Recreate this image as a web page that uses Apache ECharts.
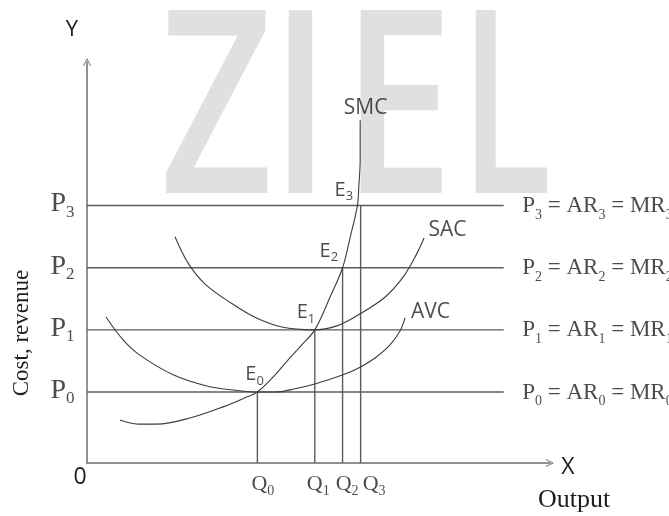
<!DOCTYPE html>
<html><head><meta charset="utf-8">
<script src="https://cdn.jsdelivr.net/npm/echarts@6/dist/echarts.min.js"></script>
<style>html,body{margin:0;padding:0;background:#fff}#c{width:669px;height:516px}</style>
</head><body><div id="c"></div>
<script>
// ---- data (chart units: x = output, y = cost/revenue) ----
const subscripts = ['0', '1', '2', '3'];
const priceLevels = [17.7, 33.2, 48.7, 64.2];      // P0..P3
const quantities = [36.8, 49.2, 55.2, 59.1];       // Q0..Q3
const priceLineEnd = 90;
const smcPoints = [[7.1,10.7],[11.0,9.7],[15.1,9.7],[22.2,11.2],[29.4,14.0],[34.6,16.5],[36.8,17.7],[40.0,21.2],[43.2,25.4],[46.2,29.2],[49.2,33.2],[52.5,41.4],[55.2,48.7],[56.8,56.1],[58.4,64.2],[58.7,68.8],[59.0,75.6],[59.0,85.5]];
const sacPoints = [[19.0,56.4],[21.8,49.9],[25.5,44.6],[31.1,39.9],[36.5,36.2],[42.1,33.9],[48.8,33.2],[54.0,34.2],[59.0,37.2],[64.4,41.4],[68.3,46.4],[71.1,51.9],[72.8,56.1]];
const avcPoints = [[4.1,36.4],[7.8,30.7],[11.4,26.9],[18.6,22.0],[25.9,19.2],[31.5,18.2],[36.8,17.7],[40.6,17.7],[44.9,18.5],[49.2,19.7],[55.3,22.0],[59.0,23.9],[62.2,26.2],[65.4,29.4],[67.6,32.9],[68.7,36.2]];
const curveNames = ['SMC', 'SAC', 'AVC'];

// ---- styles / label placement ----
const TXT = '#1e1e1e';
const SERIF = '"Liberation Serif", "Times New Roman", serif';
const SANS = '"Open Sans", sans-serif';
const eLabelShift = [[7,-17],[1,-17],[-4,-16],[-7,-15]];
const qLabelShift = [[6,22],[4,22],[5,22],[14,22]];
const curveLabelShift = [[6,-12],[24,-8],[26,-5]];
const arrowPath = 'path://M0,12 L6,0 L12,12 L10.6,12 L6,2.8 L1.4,12 Z';

const chart = echarts.init(document.getElementById('c'), null, {renderer: 'canvas'});

const curveSeries = [smcPoints, sacPoints, avcPoints].map((pts, i) => ({
  type: 'line', name: curveNames[i], data: pts, smooth: 0.35, symbol: 'none',
  lineStyle: {color: '#3c3c3c', width: 1.1}, silent: true, z: 3
}));

const priceLineSeries = priceLevels.map(p => ({
  type: 'line', data: [[0, p], [priceLineEnd, p]], symbol: 'none',
  lineStyle: {color: '#5c5c5c', width: 1.4}, silent: true, z: 2
}));

const qLineSeries = quantities.map((q, i) => ({
  type: 'line', data: [[q, 0], [q, priceLevels[i]]], symbol: 'none',
  lineStyle: {color: '#5c5c5c', width: 1.4}, silent: true, z: 2
}));

function labelSeries(data) {
  return {type: 'scatter', symbolSize: 1, itemStyle: {color: 'rgba(0,0,0,0)'},
          silent: true, z: 5, data: data};
}

const serifRich = (main, sub, mainLH, subLH) => ({
  m: {fontFamily: SERIF, fontSize: main, color: TXT, lineHeight: mainLH},
  s: {fontFamily: SERIF, fontSize: sub, color: TXT, lineHeight: subLH, verticalAlign: 'bottom'}
});

const leftPLabels = labelSeries(priceLevels.map((p, i) => ({
  value: [0, p],
  label: {show: true, position: [-12, -1], align: 'right', verticalAlign: 'middle',
          formatter: `{m|P}{s|${subscripts[i]}}`, rich: serifRich(28, 17, 34, 12)}
})));

const rightPLabels = labelSeries(priceLevels.map((p, i) => ({
  value: [priceLineEnd, p],
  label: {show: true, position: [19, 1], align: 'left', verticalAlign: 'middle',
          formatter: `{m|P}{s|${subscripts[i]}}{m| = AR}{s|${subscripts[i]}}{m| = MR}{s|${subscripts[i]}}`,
          rich: serifRich(23, 14, 32, 12)}
})));

const qLabels = labelSeries(quantities.map((q, i) => ({
  value: [q, 0],
  label: {show: true, position: qLabelShift[i], align: 'center', verticalAlign: 'middle',
          formatter: `{m|Q}{s|${subscripts[i]}}`, rich: serifRich(22, 14, 28, 11)}
})));

const eLabels = labelSeries(quantities.map((q, i) => ({
  value: [q, priceLevels[i]],
  label: {show: true, position: eLabelShift[i], align: 'right', verticalAlign: 'middle',
          formatter: `{m|E}{s|${subscripts[i]}}`,
          rich: {m: {fontFamily: SANS, fontSize: 20, color: TXT, lineHeight: 26},
                 s: {fontFamily: SANS, fontSize: 13, color: TXT, lineHeight: 12, verticalAlign: 'bottom'}}}
})));

const curveLabels = labelSeries([smcPoints, sacPoints, avcPoints].map((pts, i) => ({
  value: pts[pts.length - 1],
  label: {show: true, position: curveLabelShift[i], align: 'center', verticalAlign: 'middle',
          formatter: curveNames[i], fontFamily: SANS, fontSize: 21, color: TXT}
})));

const axisCommon = {
  type: 'value', min: 0, max: 100,
  axisLine: {show: true, onZero: false, lineStyle: {color: '#6e6e6e', width: 1.5},
             symbol: ['none', arrowPath], symbolSize: [11, 8]},
  axisTick: {show: false}, axisLabel: {show: false}, splitLine: {show: false}
};

const wmFont = '600 256px "Open Sans", sans-serif';
const wm = (ch, x, sx) => ({type: 'text', x: x, y: -8, scaleX: sx, z: -10, silent: true,
  style: {text: ch, font: wmFont, fill: '#e0e0e0', textAlign: 'left', textVerticalAlign: 'top'}});

chart.setOption({
  animation: false,
  backgroundColor: '#fff',
  grid: {left: 87, top: 62, width: 463, height: 401, containLabel: false, outerBoundsMode: 'none'},
  xAxis: axisCommon,
  yAxis: axisCommon,
  graphic: [
    wm('Z', 160, 0.77), wm('I', 270, 0.78), wm('E', 342, 0.78), wm('L', 460, 0.66),
    {type: 'text', x: 22, y: 333, rotation: Math.PI / 2, z: 50,
     style: {text: 'Cost, revenue', font: '23px ' + SERIF, fill: TXT, textAlign: 'center', textVerticalAlign: 'middle'}},
    {type: 'text', x: 72, y: 30, z: 50,
     style: {text: 'Y', font: '22px ' + SANS, fill: TXT, textAlign: 'center', textVerticalAlign: 'middle'}},
    {type: 'text', x: 80, y: 477, z: 50,
     style: {text: '0', font: '23px ' + SANS, fill: TXT, textAlign: 'center', textVerticalAlign: 'middle'}},
    {type: 'text', x: 568, y: 467, z: 50,
     style: {text: 'X', font: '23px ' + SANS, fill: TXT, textAlign: 'center', textVerticalAlign: 'middle'}},
    {type: 'text', x: 574, y: 500, z: 50,
     style: {text: 'Output', font: '26px ' + SERIF, fill: TXT, textAlign: 'center', textVerticalAlign: 'middle'}}
  ],
  series: [].concat(priceLineSeries, qLineSeries, curveSeries,
                    [leftPLabels, rightPLabels, qLabels, eLabels, curveLabels])
});
</script></body></html>
